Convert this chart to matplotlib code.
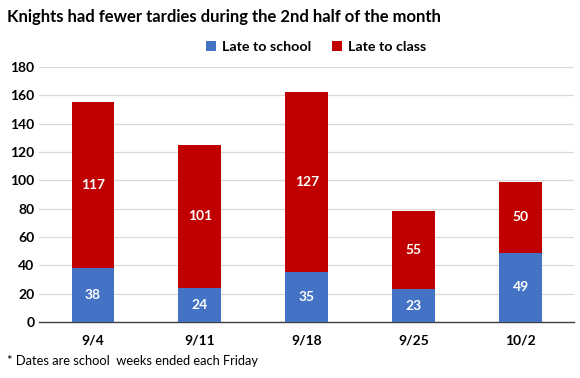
import matplotlib.pyplot as plt
import numpy as np

plt.rcParams['font.family'] = ['Lato', 'DejaVu Sans']

# Data
weeks = ['9/4', '9/11', '9/18', '9/25', '10/2']
late_school = [38, 24, 35, 23, 49]
late_class = [117, 101, 127, 55, 50]

blue = '#4472C4'
red = '#C00000'

fig = plt.figure(figsize=(5.8, 3.78), dpi=100)
ax = fig.add_axes([0.068, 0.148, 0.922, 0.675])

x = np.arange(len(weeks))
b1 = ax.bar(x, late_school, width=0.4, color=blue, label='Late to school', zorder=3)
b2 = ax.bar(x, late_class, width=0.4, bottom=late_school, color=red, label='Late to class', zorder=3)

# Value labels in the middle of each segment
for i in range(len(weeks)):
    ax.text(x[i], late_school[i] / 2, str(late_school[i]), ha='center', va='center',
            color='white', fontsize=10, fontweight='bold', zorder=4)
    ax.text(x[i], late_school[i] + late_class[i] / 2, str(late_class[i]), ha='center', va='center',
            color='white', fontsize=10, fontweight='bold', zorder=4)

ax.set_xlim(-0.5, len(weeks) - 0.5)
ax.set_ylim(0, 180)
ax.set_yticks(range(0, 181, 20))
ax.set_xticks(x)
ax.set_xticklabels(weeks)
ax.tick_params(axis='both', length=0, labelsize=10)
ax.tick_params(axis='x', pad=9)
for lbl in ax.get_xticklabels() + ax.get_yticklabels():
    lbl.set_fontweight('bold')

ax.grid(axis='y', color='#D9D9D9', linewidth=0.9, zorder=0)
for s in ['top', 'right', 'left']:
    ax.spines[s].set_visible(False)
ax.spines['bottom'].set_color('#404040')
ax.spines['bottom'].set_linewidth(1.0)

fig.text(0.012, 0.955, 'Knights had fewer tardies during the 2nd half of the month',
         fontsize=12, fontweight='bold', ha='left', va='center')
fig.legend(handles=[b1, b2], loc='center', bbox_to_anchor=(0.545, 0.875), ncol=2, frameon=False,
           prop={'weight': 'bold', 'size': 10.3}, handlelength=0.7, handleheight=0.7,
           columnspacing=1.5, handletextpad=0.4)
fig.text(0.012, 0.045, '* Dates are school  weeks ended each Friday', fontsize=9.3,
         ha='left', va='center')

plt.savefig('out.png', dpi=100)
